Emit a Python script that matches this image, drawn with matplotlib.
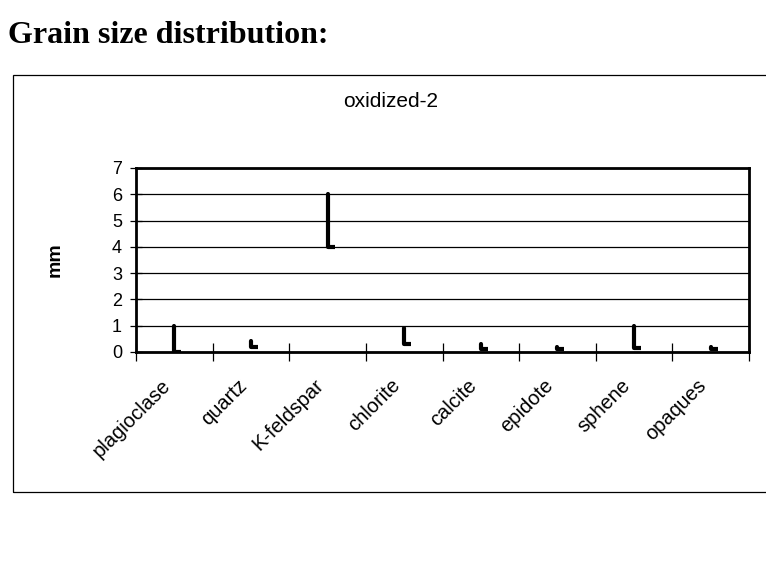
import matplotlib.pyplot as plt
from matplotlib.markers import TICKRIGHT
from matplotlib.patches import Rectangle

minerals = ["plagioclase", "quartz", "K-feldspar", "chlorite",
            "calcite", "epidote", "sphene", "opaques"]
size_min = [0.0, 0.2, 4.0, 0.3, 0.1, 0.1, 0.15, 0.1]
size_max = [1.0, 0.4, 6.0, 0.9, 0.3, 0.2, 1.0, 0.2]
size_typ = [0.0, 0.2, 4.0, 0.3, 0.1, 0.1, 0.15, 0.1]

plt.rcParams["font.family"] = ["Liberation Sans", "DejaVu Sans"]

fig = plt.figure(figsize=(7.66, 5.7), dpi=100)
fig.text(8 / 766, 1 - 43 / 570, "Grain size distribution:",
         family="Liberation Serif", weight="bold", fontsize=23,
         ha="left", va="baseline")

# chart frame (runs off the right edge)
fig.patches.append(Rectangle((13 / 766, 1 - 492 / 570), 800 / 766, 417 / 570,
                             transform=fig.transFigure, fill=False,
                             edgecolor="black", lw=0.9))
fig.text(391 / 766, 1 - 107 / 570, "oxidized-2", fontsize=15,
         ha="center", va="baseline")

ax = fig.add_axes([136 / 766, 1 - 352 / 570, 613 / 766, 184 / 570])
x = list(range(len(minerals)))

# high-low lines with a right-hand tick at the typical size
ax.vlines(x, size_min, size_max, colors="black", lw=3, capstyle="round", zorder=3)
ax.plot(x, size_typ, ls="none", marker=TICKRIGHT, ms=5, mew=3, color="black", zorder=3)

ax.set_xlim(-0.5, len(minerals) - 0.5)
ax.set_ylim(0, 7)
ax.set_yticks(range(8))
ax.yaxis.grid(True, color="black", lw=0.9)
ax.set_axisbelow(True)

# category separators as major ticks, rotated names as minor ticks
ax.set_xticks([i + 0.5 for i in x[:-1]] + [-0.5, len(minerals) - 0.5])
ax.set_xticklabels([])
ax.set_xticks([i - 0.18 for i in x], minor=True)
ax.set_xticklabels(minerals, minor=True, rotation=45, ha="right",
                   rotation_mode="anchor", fontsize=14.5)
ax.tick_params(axis="x", which="major", direction="inout", length=13, width=0.9)
ax.tick_params(axis="x", which="minor", length=0, pad=17)
ax.tick_params(axis="y", direction="inout", length=8, width=0.9, labelsize=13, pad=6)

for s in ax.spines.values():
    s.set_linewidth(2)

ax.set_ylabel("mm", fontsize=14, weight="bold", labelpad=35)

fig.savefig("out.png", dpi=100)
